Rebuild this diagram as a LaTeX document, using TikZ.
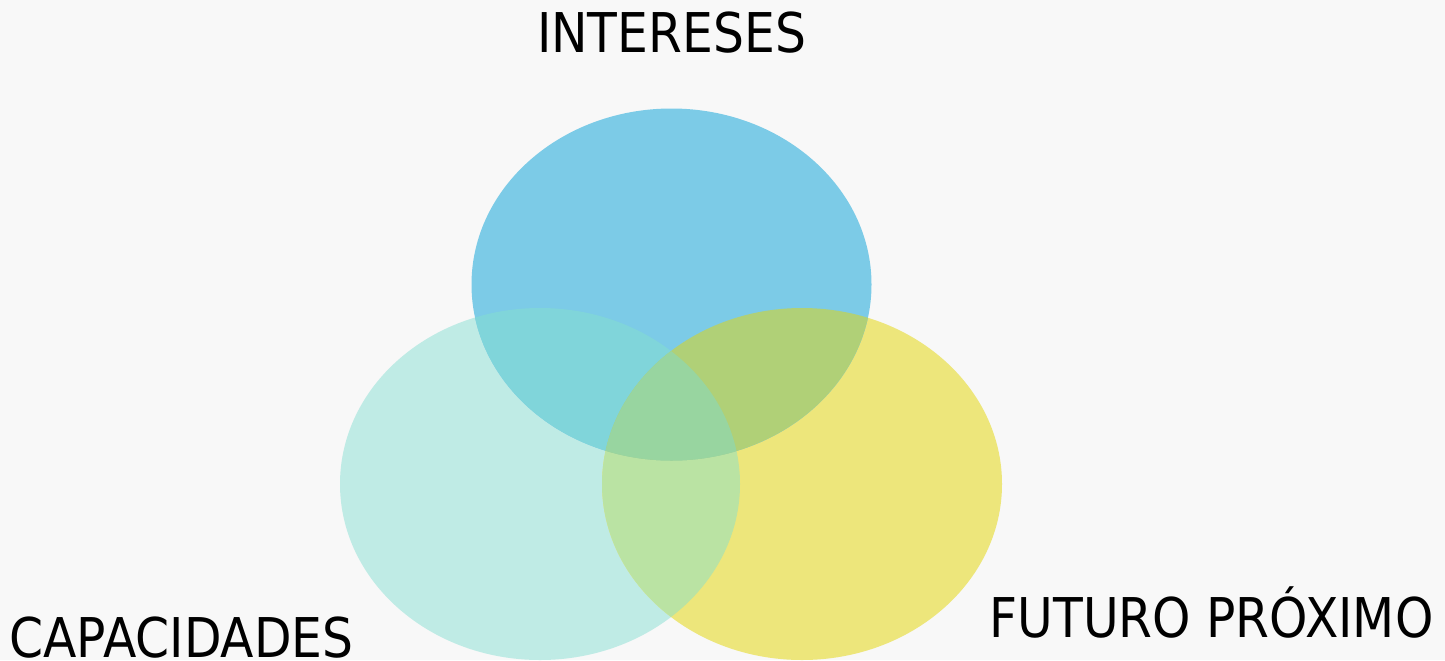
\documentclass[tikz,border=0pt]{standalone}
\usepackage{fontspec}
\setmainfont[FakeStretch=0.89]{DejaVu Sans}
\usepackage{tikz}
\usetikzlibrary{backgrounds}
\definecolor{fondo}{HTML}{F8F8F8}
\definecolor{azul}{HTML}{7CCBE7}
\definecolor{aguamarina}{HTML}{BFEBE5}
\definecolor{amarillo}{HTML}{EDE67B}
\definecolor{azulagua}{HTML}{80D5DA}
\definecolor{azulamarillo}{HTML}{B0D077}
\definecolor{aguaamarillo}{HTML}{BAE3A3}
\definecolor{centro}{HTML}{98D5A0}
\tikzset{
  venn/.style={x radius=200,y radius=176},
  rotulo/.style={font=\fontsize{27.4}{30}\selectfont,inner sep=0pt,anchor=base}
}

\begin{document}
\begin{tikzpicture}[x=0.5pt,y=-0.5pt]
\fill[fondo] (0,0) rectangle (1445,660);
\useasboundingbox (0,0) rectangle (1445,660);
\coordinate (ci) at (671.5,284.5);
\coordinate (cc) at (540,484);
\coordinate (cf) at (802,484);
\fill[aguamarina] (cc) ellipse [venn];
\fill[amarillo] (cf) ellipse [venn];
\fill[azul] (ci) ellipse [venn];
\begin{scope}
\clip (cc) ellipse [venn];
\fill[aguaamarillo] (cf) ellipse [venn];
\end{scope}
\begin{scope}
\clip (ci) ellipse [venn];
\fill[azulagua] (cc) ellipse [venn];
\fill[azulamarillo] (cf) ellipse [venn];
\clip (cc) ellipse [venn];
\fill[centro] (cf) ellipse [venn];
\end{scope}
\node[rotulo] (intereses) at (671.5,52) {INTERESES};
\node[rotulo] (capacidades) at (181.5,657) {CAPACIDADES};
\node[rotulo] (futuro) at (1211.5,637) {FUTURO PRÓXIMO};
\end{tikzpicture}
\end{document}
